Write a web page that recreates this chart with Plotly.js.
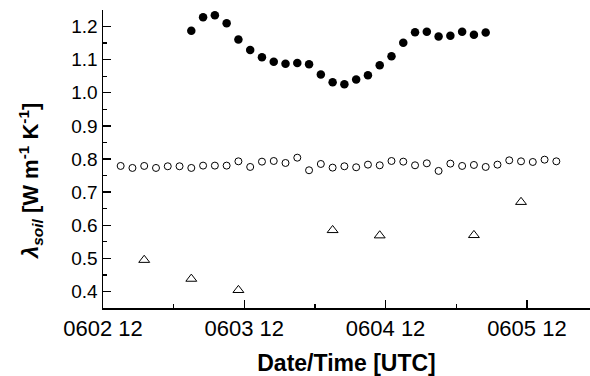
<!DOCTYPE html>
<html>
<head>
<meta charset="utf-8">
<script src="https://cdn.plot.ly/plotly-3.0.1.min.js"></script>
<style>
  html, body { margin: 0; padding: 0; background: #fff; }
  #chart { width: 590px; height: 376px; }
</style>
</head>
<body>
<div id="chart"></div>
<script>
// Soil thermal conductivity, three estimates (2-hourly series and sparse points)
var filledTimes = [
  '2008-06-03 03:00', '2008-06-03 05:00', '2008-06-03 07:00', '2008-06-03 09:00',
  '2008-06-03 11:00', '2008-06-03 13:00', '2008-06-03 15:00', '2008-06-03 17:00',
  '2008-06-03 19:00', '2008-06-03 21:00', '2008-06-03 23:00', '2008-06-04 01:00',
  '2008-06-04 03:00', '2008-06-04 05:00', '2008-06-04 07:00', '2008-06-04 09:00',
  '2008-06-04 11:00', '2008-06-04 13:00', '2008-06-04 15:00', '2008-06-04 17:00',
  '2008-06-04 19:00', '2008-06-04 21:00', '2008-06-04 23:00', '2008-06-05 01:00',
  '2008-06-05 03:00', '2008-06-05 05:00'
];
var filledValues = [
  1.187, 1.228, 1.234, 1.210, 1.161, 1.129, 1.107, 1.094,
  1.088, 1.090, 1.086, 1.055, 1.032, 1.026, 1.040, 1.053,
  1.083, 1.110, 1.151, 1.183, 1.184, 1.170, 1.172, 1.184,
  1.175, 1.182
];

var openTimes = [
  '2008-06-02 15:00', '2008-06-02 17:00', '2008-06-02 19:00', '2008-06-02 21:00',
  '2008-06-02 23:00', '2008-06-03 01:00', '2008-06-03 03:00', '2008-06-03 05:00',
  '2008-06-03 07:00', '2008-06-03 09:00', '2008-06-03 11:00', '2008-06-03 13:00',
  '2008-06-03 15:00', '2008-06-03 17:00', '2008-06-03 19:00', '2008-06-03 21:00',
  '2008-06-03 23:00', '2008-06-04 01:00', '2008-06-04 03:00', '2008-06-04 05:00',
  '2008-06-04 07:00', '2008-06-04 09:00', '2008-06-04 11:00', '2008-06-04 13:00',
  '2008-06-04 15:00', '2008-06-04 17:00', '2008-06-04 19:00', '2008-06-04 21:00',
  '2008-06-04 23:00', '2008-06-05 01:00', '2008-06-05 03:00', '2008-06-05 05:00',
  '2008-06-05 07:00', '2008-06-05 09:00', '2008-06-05 11:00', '2008-06-05 13:00',
  '2008-06-05 15:00', '2008-06-05 17:00'
];
var openValues = [
  0.779, 0.773, 0.779, 0.773, 0.778, 0.778, 0.773, 0.780,
  0.780, 0.780, 0.793, 0.776, 0.792, 0.794, 0.788, 0.804,
  0.766, 0.785, 0.774, 0.778, 0.775, 0.783, 0.781, 0.794,
  0.792, 0.781, 0.787, 0.764, 0.786, 0.779, 0.782, 0.776,
  0.783, 0.796, 0.793, 0.791, 0.798, 0.793
];

var triTimes = [
  '2008-06-02 19:00', '2008-06-03 03:00', '2008-06-03 11:00', '2008-06-04 03:00',
  '2008-06-04 11:00', '2008-06-05 03:00', '2008-06-05 11:00'
];
var triValues = [0.495, 0.438, 0.404, 0.585, 0.569, 0.570, 0.670];

var xRange = ['2008-06-02 12:00', '2008-06-05 22:43'];
var yRange = [0.35, 1.25];

var fontFamily = 'Liberation Sans, Arial, Helvetica, sans-serif';

var traces = [
  {
    x: filledTimes, y: filledValues, type: 'scatter', mode: 'markers',
    marker: { symbol: 'circle', size: 8.5, color: '#000' },
    hoverinfo: 'x+y'
  },
  {
    x: openTimes, y: openValues, type: 'scatter', mode: 'markers',
    marker: { symbol: 'circle-open', size: 7, color: '#000', line: { width: 1, color: '#000' } },
    hoverinfo: 'x+y'
  },
  {
    x: triTimes, y: triValues, type: 'scatter', mode: 'markers',
    marker: { symbol: 'triangle-up-open', size: 9.5, color: '#000', line: { width: 1, color: '#000' } },
    hoverinfo: 'x+y'
  }
];

var layout = {
  width: 590, height: 376,
  margin: { l: 103, r: 0, t: 10, b: 68 },
  paper_bgcolor: '#fff', plot_bgcolor: '#fff',
  showlegend: false,
  font: { family: fontFamily, color: '#000' },
  xaxis: {
    type: 'date',
    range: xRange,
    tick0: '2008-06-02 12:00',
    dtick: 86400000,
    tickformat: '%m%d %H',
    ticks: 'inside', ticklen: 8, tickwidth: 1.3, tickcolor: '#000',
    minor: { dtick: 43200000, tick0: '2008-06-02 00:00', ticks: 'inside', ticklen: 4, tickwidth: 1.3, tickcolor: '#000', showgrid: false },
    showline: true, linewidth: 1.5, linecolor: '#000',
    showgrid: false, zeroline: false,
    tickfont: { size: 22, family: fontFamily, color: '#000' },
    title: { text: '<b>Date/Time [UTC]</b>', font: { size: 23, family: fontFamily, color: '#000' }, standoff: 15 }
  },
  yaxis: {
    range: yRange,
    tick0: 0.4, dtick: 0.1,
    tickformat: '.1f',
    ticks: 'inside', ticklen: 8, tickwidth: 1.3, tickcolor: '#000',
    minor: { dtick: 0.05, tick0: 0.35, ticks: 'inside', ticklen: 4, tickwidth: 1.3, tickcolor: '#000', showgrid: false },
    showline: true, linewidth: 1.5, linecolor: '#000',
    showgrid: false, zeroline: false,
    tickfont: { size: 19, family: fontFamily, color: '#000' }
  },
  annotations: [
    {
      xref: 'paper', yref: 'paper', x: -0.15, y: 0.426,
      xanchor: 'center', yanchor: 'middle', textangle: -90, showarrow: false,
      text: '<b><i>λ</i><sub><i>soil</i></sub> [W m<sup>-1</sup> K<sup>-1</sup>]</b>',
      font: { size: 22, family: fontFamily, color: '#000' }
    }
  ]
};

Plotly.newPlot('chart', traces, layout, { staticPlot: true, displayModeBar: false });
</script>
</body>
</html>
